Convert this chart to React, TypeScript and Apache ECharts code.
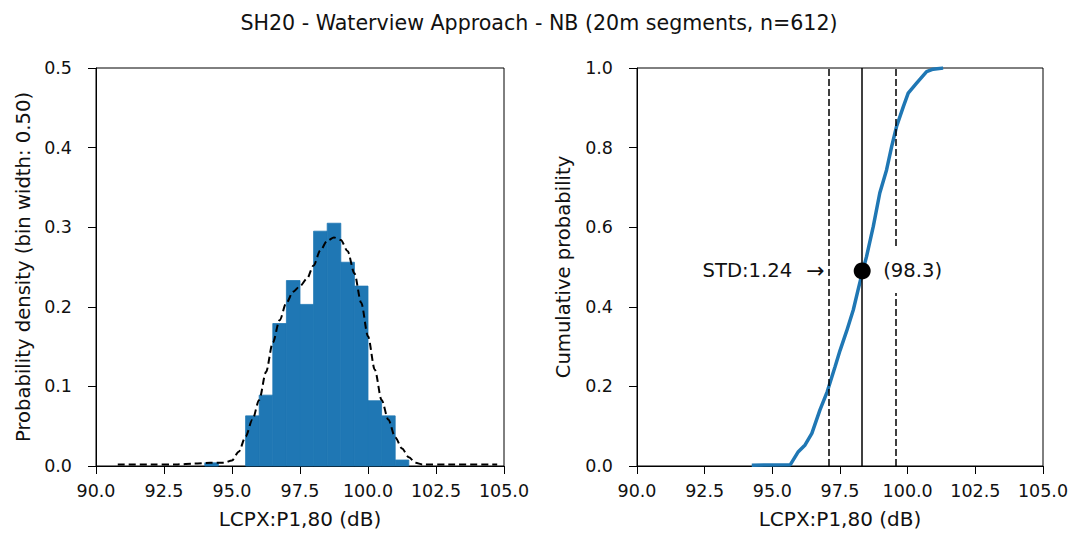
import React, { useEffect, useRef } from "react";
import * as echarts from "echarts";

// Histogram: left edge of each 0.5 dB bin and its probability density
const BIN_WIDTH = 0.5;
const binStarts = [94.0, 95.5, 96.0, 96.5, 97.0, 97.5, 98.0, 98.5, 99.0, 99.5, 100.0, 100.5, 101.0];
const binDensity = [0.004, 0.063, 0.089, 0.179, 0.233, 0.203, 0.295, 0.305, 0.256, 0.226, 0.082, 0.063, 0.0075];

// Kernel density estimate (dashed curve)
const kdeX = [
  90.8, 92.0, 93.0, 93.6, 94.2, 94.7, 95.0, 95.25, 95.5, 95.75, 96.0, 96.25, 96.5, 96.75, 97.0,
  97.25, 97.5, 97.75, 98.0, 98.25, 98.5, 98.75, 99.0, 99.25, 99.5, 99.75, 100.0, 100.25, 100.5,
  100.75, 101.0, 101.25, 101.5, 101.75, 102.0, 103.0, 104.75,
];
const kdeY = [
  0.002, 0.002, 0.002, 0.003, 0.004, 0.004, 0.007, 0.018, 0.037, 0.058, 0.083, 0.118, 0.155, 0.183, 0.205,
  0.219, 0.226, 0.235, 0.252, 0.271, 0.283, 0.287, 0.284, 0.27, 0.242, 0.205, 0.163, 0.121, 0.083,
  0.058, 0.036, 0.022, 0.011, 0.004, 0.002, 0.002, 0.002,
];

// Empirical cumulative distribution
const cdfX = [
  94.24, 95.66, 95.96, 96.21, 96.46, 96.76, 97.03, 97.32, 97.5, 97.75, 97.99, 98.17, 98.34, 98.48,
  98.73, 98.97, 99.22, 99.41, 99.59, 99.84, 100.02, 100.33, 100.7, 100.94, 101.31,
];
const cdfY = [
  0.002, 0.003, 0.036, 0.053, 0.082, 0.141, 0.187, 0.25, 0.29, 0.34, 0.392, 0.443, 0.49, 0.526,
  0.602, 0.686, 0.744, 0.803, 0.853, 0.903, 0.937, 0.962, 0.991, 0.997, 1.0,
];

const MEAN = 98.32;
const STD = 1.24;
const CDF_AT_MEAN = 0.49;

const xTicks = ["90.0", "92.5", "95.0", "97.5", "100.0", "102.5", "105.0"];

const TITLE = "SH20 - Waterview Approach - NB (20m segments, n=612)";
const X_NAME = "LCPX:P1,80 (dB)";
const FONT = "DejaVu Sans";
const INK = "#111";
const BLUE = "#1f77b4";

function xAxisCfg(gridIndex: number) {
  return {
    type: "value" as const,
    gridIndex,
    min: 90,
    max: 105,
    interval: 2.5,
    name: X_NAME,
    nameLocation: "middle" as const,
    nameGap: 43,
    nameTextStyle: { fontFamily: FONT, fontSize: 20, color: INK },
    axisLine: { show: true, lineStyle: { color: "#000", width: 1 } },
    axisTick: { show: true, inside: false, length: 8, lineStyle: { color: "#000", width: 1 } },
    axisLabel: {
      fontFamily: FONT,
      fontSize: 17.5,
      color: INK,
      margin: 16,
      showMinLabel: true,
      showMaxLabel: true,
      formatter: (v: number) => xTicks.find((t) => Math.abs(parseFloat(t) - v) < 1e-6) ?? v.toFixed(1),
    },
    splitLine: { show: false },
  };
}

function yAxisCfg(gridIndex: number, max: number, interval: number, name: string, nameGap: number) {
  return {
    type: "value" as const,
    gridIndex,
    min: 0,
    max,
    interval,
    name,
    nameLocation: "middle" as const,
    nameRotate: 90,
    nameGap,
    nameTextStyle: { fontFamily: FONT, fontSize: 19.6, color: INK },
    axisLine: { show: true, lineStyle: { color: "#000", width: 1 } },
    axisTick: { show: true, inside: false, length: 8, lineStyle: { color: "#000", width: 1 } },
    axisLabel: {
      fontFamily: FONT,
      fontSize: 17.5,
      color: INK,
      margin: 24,
      formatter: (v: number) => v.toFixed(1),
    },
    splitLine: { show: false },
  };
}

export default function App() {
  const ref = useRef<HTMLDivElement>(null);

  useEffect(() => {
    if (!ref.current) return;
    const chart = echarts.init(ref.current, null, { renderer: "svg" });

    const histData = binStarts.map((x, i) => [x, binDensity[i]]);
    const kdeData = kdeX.map((x, i) => [x, kdeY[i]]);
    const cdfData = cdfX.map((x, i) => [x, cdfY[i]]);

    chart.setOption({
      animation: false,
      backgroundColor: "#fff",
      textStyle: { fontFamily: FONT },
      title: {
        text: TITLE,
        left: "center",
        top: 7,
        textStyle: { fontFamily: FONT, fontSize: 20.6, fontWeight: "normal", color: INK },
      },
      grid: [
        { left: 96, top: 68, width: 408, height: 398, show: true, borderColor: "#000", borderWidth: 1, backgroundColor: "transparent" },
        { left: 637, top: 68, width: 406, height: 398, show: true, borderColor: "#000", borderWidth: 1, backgroundColor: "transparent" },
      ],
      xAxis: [xAxisCfg(0), xAxisCfg(1)],
      yAxis: [
        yAxisCfg(0, 0.5, 0.1, "Probability density (bin width: 0.50)", 63),
        yAxisCfg(1, 1.0, 0.2, "Cumulative probability", 64),
      ],
      series: [
        {
          type: "custom",
          name: "histogram",
          xAxisIndex: 0,
          yAxisIndex: 0,
          z: 1,
          encode: { x: 0, y: 1 },
          data: histData,
          renderItem: (_params: any, api: any) => {
            const x0 = api.value(0);
            const h = api.value(1);
            const topLeft = api.coord([x0, h]);
            const bottomRight = api.coord([x0 + BIN_WIDTH, 0]);
            return {
              type: "rect",
              shape: {
                x: topLeft[0],
                y: topLeft[1],
                width: bottomRight[0] - topLeft[0],
                height: bottomRight[1] - topLeft[1],
              },
              style: { fill: BLUE, stroke: BLUE, lineWidth: 0.8 },
            };
          },
        },
        {
          type: "line",
          name: "kde",
          xAxisIndex: 0,
          yAxisIndex: 0,
          z: 3,
          data: kdeData,
          showSymbol: false,
          symbol: "none",
          smooth: 0.3,
          smoothMonotone: "x",
          lineStyle: { color: "#000", width: 2, type: [7, 4] },
        },
        {
          type: "line",
          name: "cdf",
          xAxisIndex: 1,
          yAxisIndex: 1,
          z: 2,
          data: cdfData,
          showSymbol: false,
          symbol: "none",
          lineStyle: { color: BLUE, width: 3.5 },
          markLine: {
            silent: true,
            symbol: ["none", "none"],
            label: { show: false },
            data: [
              { xAxis: MEAN - STD, lineStyle: { color: "#000", width: 1.5, type: [7, 3] } },
              { xAxis: MEAN, lineStyle: { color: "#000", width: 1.5, type: "solid" } },
              { xAxis: MEAN + STD, lineStyle: { color: "#000", width: 1.5, type: [7, 3] } },
            ],
          },
        },
        {
          type: "scatter",
          name: "std",
          xAxisIndex: 1,
          yAxisIndex: 1,
          z: 6,
          symbolSize: 0,
          itemStyle: { opacity: 1 },
          data: [[MEAN - STD, CDF_AT_MEAN]],
          label: {
            show: true,
            position: "left",
            distance: 4,
            formatter: `{t|STD:${STD.toFixed(2)}}{a|→}`,
            rich: {
              t: { fontFamily: FONT, fontSize: 19.6, color: INK },
              a: { fontFamily: FONT, fontSize: 22, color: INK, padding: [0, 0, 0, 14] },
            },
          },
        },
        {
          type: "scatter",
          name: "mean",
          xAxisIndex: 1,
          yAxisIndex: 1,
          z: 6,
          symbol: "circle",
          symbolSize: 17,
          itemStyle: { color: "#000", opacity: 1 },
          data: [[MEAN, CDF_AT_MEAN]],
        },
      ],
    });

    // Value label beside the mean marker, boxed in white so it sits over the dashed line
    const [px, py] = chart.convertToPixel({ xAxisIndex: 1, yAxisIndex: 1 }, [MEAN, CDF_AT_MEAN]);
    chart.setOption({
      graphic: [
        {
          type: "text",
          z: 100,
          x: px + 17,
          y: py,
          style: {
            text: `(${MEAN.toFixed(1)})`,
            font: `19.6px "${FONT}"`,
            fill: INK,
            verticalAlign: "middle",
            align: "left",
            backgroundColor: "#fff",
            padding: [12, 4],
          },
        },
      ],
    });

    return () => chart.dispose();
  }, []);

  return (
    <div
      ref={ref}
      style={{ position: "fixed", left: 0, top: 0, width: 1078, height: 536, background: "#fff" }}
    />
  );
}
